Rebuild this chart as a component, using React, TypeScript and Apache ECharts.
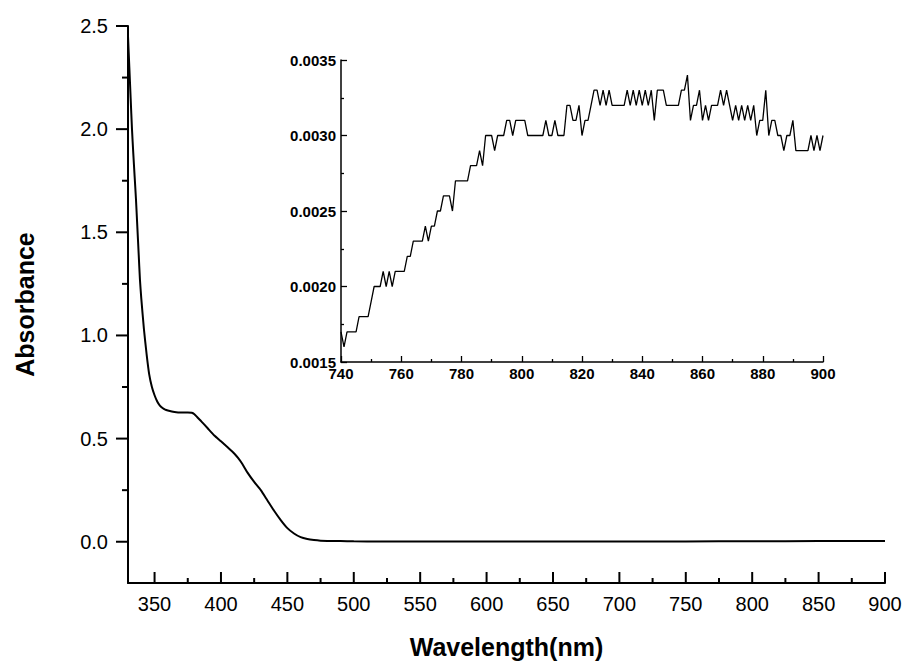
import React, { useEffect, useRef } from "react";
import * as echarts from "echarts";

const FONT = "'Liberation Sans', Arial, Helvetica, sans-serif";

// Main spectrum
const mainWavelength = [
  330, 331, 332, 333, 334, 335, 336, 337, 338, 339, 340, 342, 344, 346, 348, 350, 352, 354, 356,
  358, 360, 365, 370, 375, 378, 380, 382, 385, 390, 395, 400, 405, 410, 413, 416, 420, 425, 430,
  435, 440, 445, 450, 455, 460, 465, 470, 475, 480, 490, 500, 520, 550, 600, 650, 700, 750, 800,
  850, 900,
];
const mainAbsorbance = [
  2.45, 2.3, 2.15, 2.0, 1.88, 1.77, 1.66, 1.53, 1.4, 1.27, 1.18, 1.03, 0.91, 0.81, 0.75, 0.71,
  0.68, 0.66, 0.648, 0.64, 0.636, 0.629, 0.626, 0.627, 0.625, 0.618, 0.605, 0.585, 0.55, 0.515,
  0.487, 0.458, 0.428, 0.405, 0.378, 0.335, 0.29, 0.25, 0.2, 0.15, 0.105, 0.066, 0.04, 0.022,
  0.013, 0.008, 0.005, 0.004, 0.003, 0.002, 0.0015, 0.001, 0.001, 0.0008, 0.0008, 0.0012, 0.0025,
  0.003, 0.003,
];

const xMajorTicks = [350, 400, 450, 500, 550, 600, 650, 700, 750, 800, 850, 900];
const xMinorTicks = [375, 425, 475, 525, 575, 625, 675, 725, 775, 825, 875];
const yMajorTicks = [0, 0.5, 1.0, 1.5, 2.0, 2.5];
const yMinorTicks = [0.25, 0.75, 1.25, 1.75, 2.25];

const xMin = 330;
const xMax = 900;
const yMin = -0.2;
const yMax = 2.5;

// Inset: 740–900 nm at 1 nm steps
const insetStart = 740;
const insetAbsorbance = [
  0.0017, 0.0016, 0.0017, 0.0017, 0.0017, 0.0017, 0.0018, 0.0018, 0.0018, 0.0018,
  0.0019, 0.002, 0.002, 0.002, 0.0021, 0.002, 0.0021, 0.002, 0.0021, 0.0021,
  0.0021, 0.0021, 0.0022, 0.0022, 0.0023, 0.0023, 0.0023, 0.0023, 0.0024, 0.0023,
  0.0024, 0.0024, 0.0025, 0.0025, 0.0026, 0.0026, 0.0026, 0.0025, 0.0027, 0.0027,
  0.0027, 0.0027, 0.0027, 0.0028, 0.0028, 0.0028, 0.0029, 0.0028, 0.003, 0.003,
  0.003, 0.0029, 0.003, 0.003, 0.003, 0.0031, 0.0031, 0.003, 0.0031, 0.0031,
  0.0031, 0.0031, 0.003, 0.003, 0.003, 0.003, 0.003, 0.003, 0.0031, 0.003,
  0.003, 0.0031, 0.003, 0.003, 0.003, 0.0032, 0.0032, 0.0031, 0.0031, 0.0032,
  0.003, 0.0031, 0.0031, 0.0032, 0.0033, 0.0033, 0.0032, 0.0033, 0.0032, 0.0033,
  0.0032, 0.0032, 0.0032, 0.0032, 0.0032, 0.0033, 0.0032, 0.0033, 0.0032, 0.0033,
  0.0032, 0.0033, 0.0032, 0.0033, 0.0031, 0.0033, 0.0033, 0.0033, 0.0032, 0.0032,
  0.0032, 0.0032, 0.0032, 0.0033, 0.0033, 0.0034, 0.0031, 0.0032, 0.0032, 0.0033,
  0.0031, 0.0032, 0.0031, 0.0032, 0.0032, 0.0032, 0.0033, 0.0032, 0.0033, 0.0032,
  0.0031, 0.0032, 0.0031, 0.0032, 0.0031, 0.0032, 0.0031, 0.0032, 0.003, 0.0031,
  0.0031, 0.0033, 0.003, 0.0031, 0.0031, 0.003, 0.003, 0.0029, 0.003, 0.003,
  0.0031, 0.0029, 0.0029, 0.0029, 0.0029, 0.0029, 0.003, 0.0029, 0.003, 0.0029,
  0.003,
];

const black = "#000";

export default function App() {
  const ref = useRef<HTMLDivElement>(null);

  useEffect(() => {
    const chart = echarts.init(ref.current!, null, { renderer: "svg" });
    const mainData = mainWavelength.map((w, i) => [w, mainAbsorbance[i]]);
    const insetData = insetAbsorbance.map((v, i) => [insetStart + i, v]);

    const tickLabel = { color: black, fontFamily: FONT, fontSize: 20 };
    const insetLabel = { color: black, fontFamily: FONT, fontSize: 15, fontWeight: "bold" as const };
    const titleStyle = { color: black, fontFamily: FONT, fontSize: 25, fontWeight: "bold" as const };

    // Tick marks of the main axes, drawn as thin rect symbols placed through the axes' scales
    const tickSeries = (data: number[][], size: number[], offset: number[]) => ({
      type: "scatter",
      xAxisIndex: 0,
      yAxisIndex: 0,
      data,
      symbol: "rect",
      symbolSize: size,
      symbolOffset: offset,
      itemStyle: { color: black, opacity: 1 },
      clip: false,
      silent: true,
      z: 10,
    });

    chart.setOption({
      animation: false,
      backgroundColor: "#fff",
      grid: [
        { left: 128, right: 22, top: 26, bottom: 85 },
        { left: 341, right: 84, top: 60, bottom: 306 },
      ],
      xAxis: [
        {
          gridIndex: 0,
          type: "value",
          min: xMin,
          max: xMax,
          position: "bottom",
          axisLine: { onZero: false, lineStyle: { color: black, width: 2 } },
          axisTick: { show: false },
          axisLabel: { ...tickLabel, customValues: xMajorTicks, margin: 11 },
          splitLine: { show: false },
          name: "Wavelength(nm)",
          nameLocation: "middle",
          nameGap: 51,
          nameTextStyle: titleStyle,
        },
        {
          gridIndex: 1,
          type: "value",
          min: 740,
          max: 900,
          interval: 20,
          axisLine: { onZero: false, lineStyle: { color: black, width: 1.5 } },
          axisTick: { inside: true, length: 6, lineStyle: { color: black, width: 1.3 } },
          minorTick: { show: true, splitNumber: 2, length: 3, lineStyle: { color: black, width: 1.3 } },
          axisLabel: { ...insetLabel, margin: 4 },
          splitLine: { show: false },
          minorSplitLine: { show: false },
        },
      ],
      yAxis: [
        {
          gridIndex: 0,
          type: "value",
          min: yMin,
          max: yMax,
          position: "left",
          axisLine: { show: true, onZero: false, lineStyle: { color: black, width: 2 } },
          axisTick: { show: false },
          axisLabel: { ...tickLabel, customValues: yMajorTicks, margin: 20, formatter: (v: number) => v.toFixed(1) },
          splitLine: { show: false },
          name: "Absorbance",
          nameLocation: "middle",
          nameGap: 91,
          nameTextStyle: titleStyle,
        },
        {
          gridIndex: 1,
          type: "value",
          min: 0.0015,
          max: 0.0035,
          interval: 0.0005,
          axisLine: { show: true, onZero: false, lineStyle: { color: black, width: 1.5 } },
          axisTick: { show: true, inside: true, length: 6, lineStyle: { color: black, width: 1.3 } },
          minorTick: { show: true, splitNumber: 2, length: 3, lineStyle: { color: black, width: 1.3 } },
          axisLabel: { ...insetLabel, margin: 5, formatter: (v: number) => v.toFixed(4) },
          splitLine: { show: false },
          minorSplitLine: { show: false },
        },
      ],
      series: [
        {
          type: "line",
          xAxisIndex: 0,
          yAxisIndex: 0,
          data: mainData,
          symbol: "none",
          smooth: 0.2,
          lineStyle: { color: black, width: 2 },
          silent: true,
        },
        tickSeries(xMajorTicks.map((v) => [v, yMin]), [2, 11], [0, -5.5]),
        tickSeries(xMinorTicks.map((v) => [v, yMin]), [2, 5], [0, -2.5]),
        tickSeries(yMajorTicks.map((v) => [xMin, v]), [12, 2], [-6, 0]),
        tickSeries(yMinorTicks.map((v) => [xMin, v]), [6, 2], [-3, 0]),
        {
          type: "line",
          xAxisIndex: 1,
          yAxisIndex: 1,
          data: insetData,
          symbol: "none",
          lineStyle: { color: black, width: 1.3 },
          silent: true,
        },
      ],
    });
    return () => chart.dispose();
  }, []);

  return (
    <div
      ref={ref}
      style={{ position: "fixed", left: 0, top: 0, width: 907, height: 668, background: "#fff" }}
    />
  );
}
